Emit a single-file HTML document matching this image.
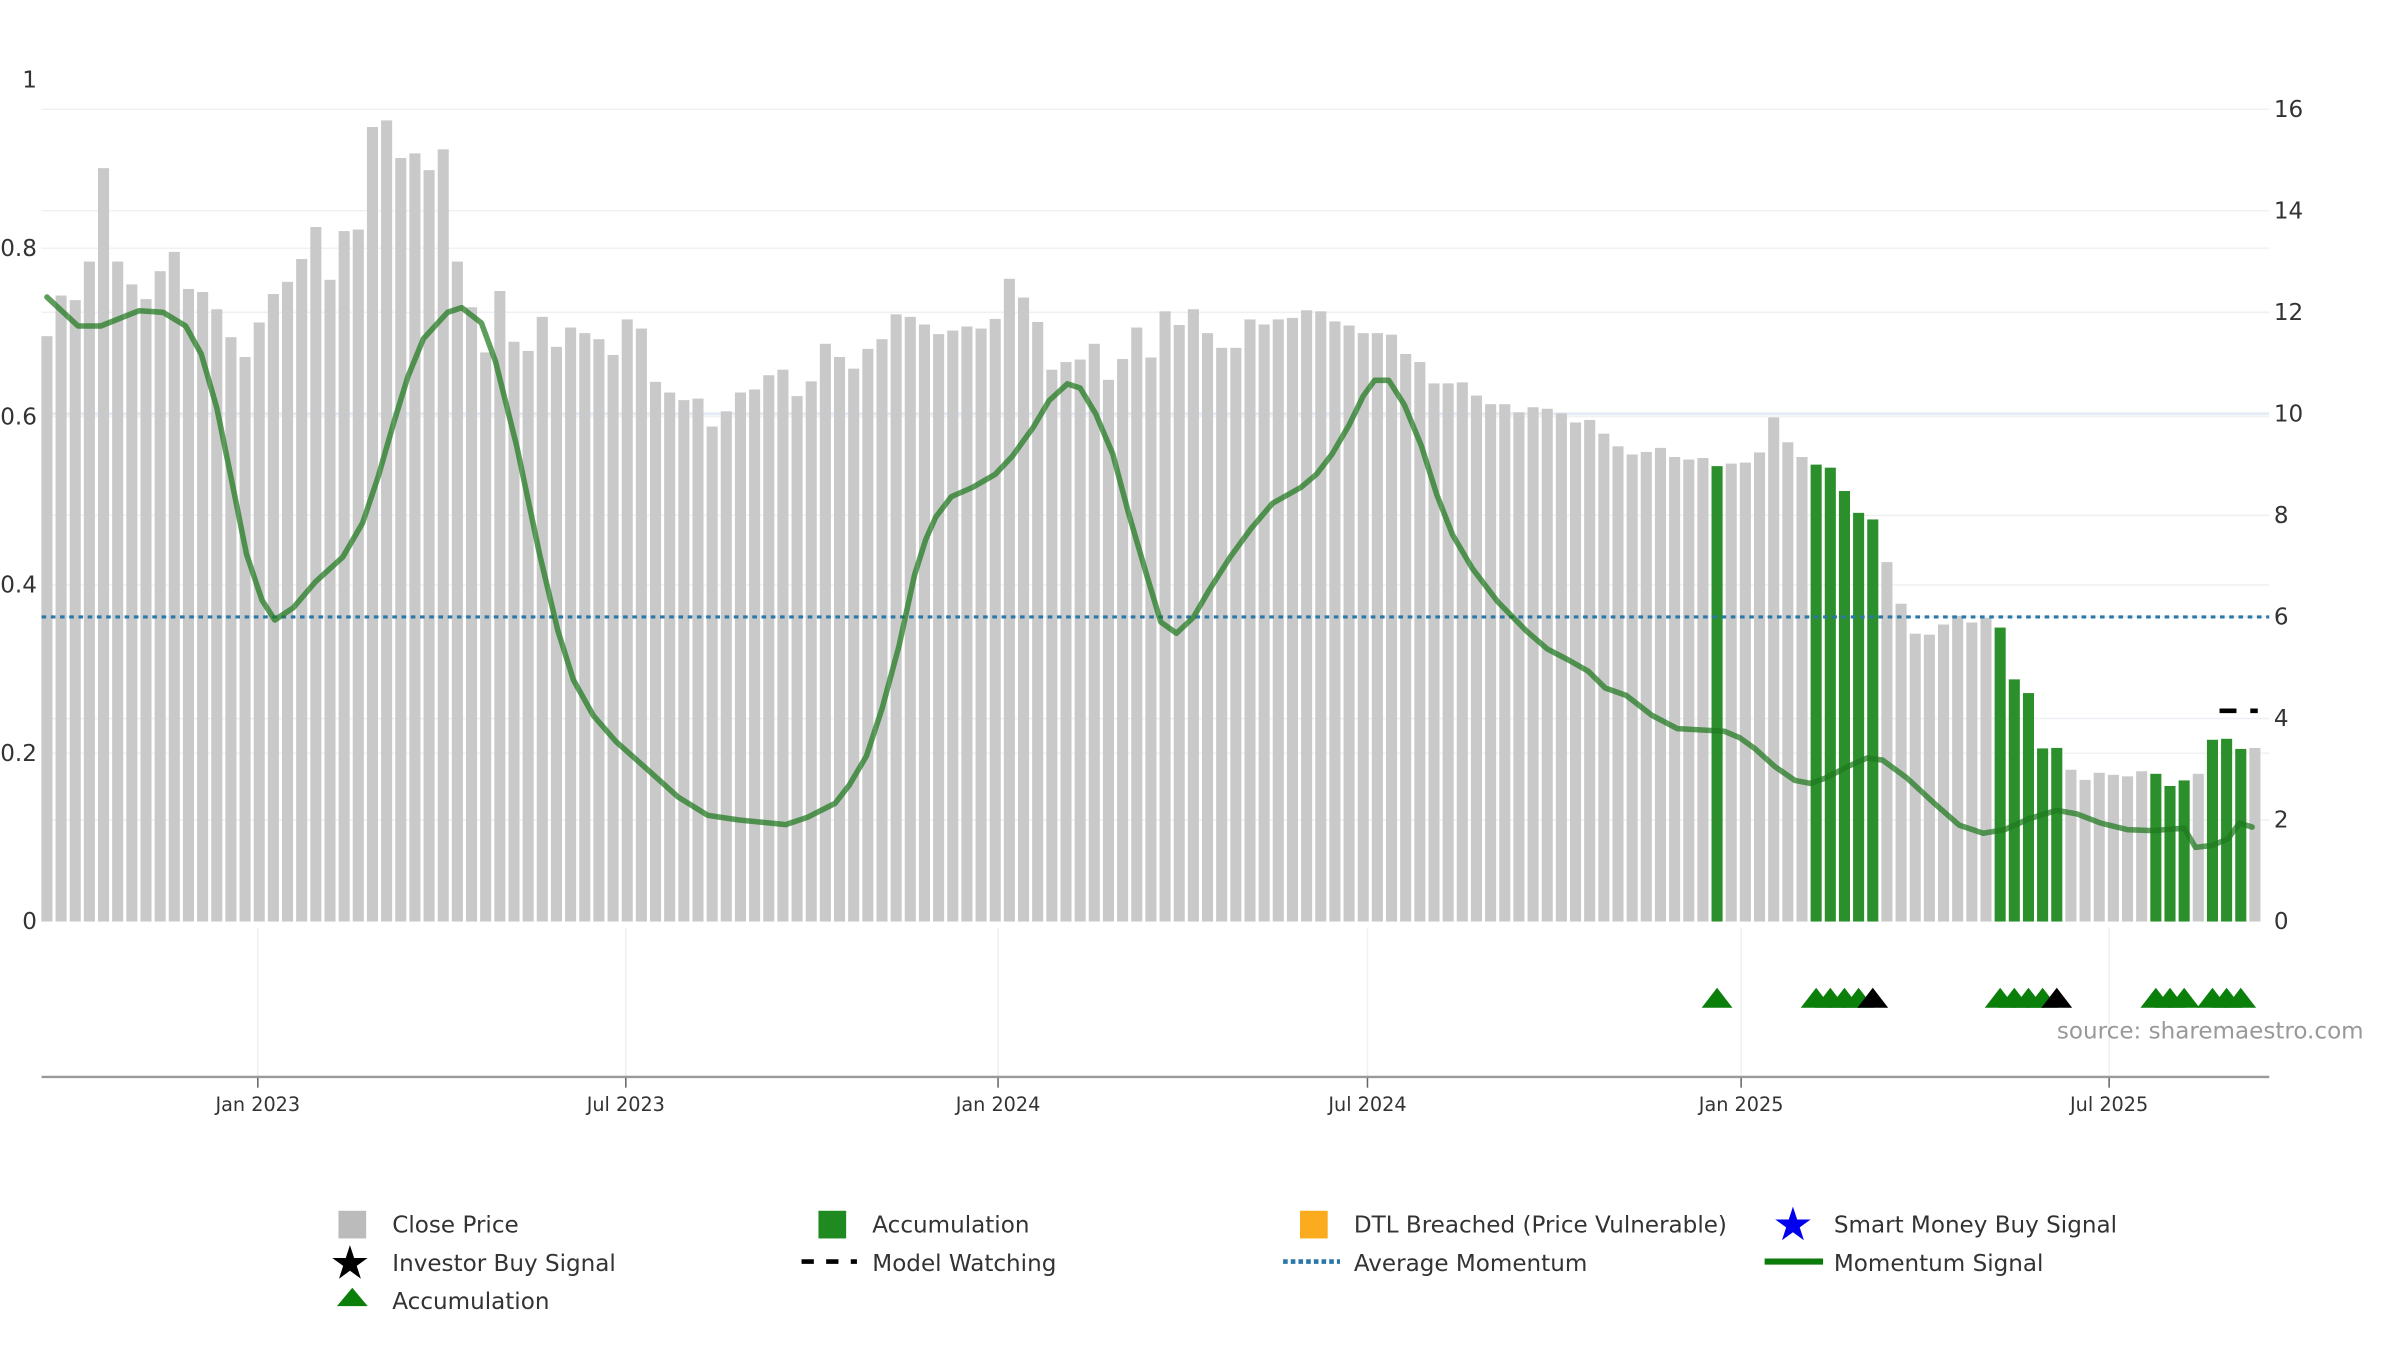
<!DOCTYPE html>
<html><head><meta charset="utf-8"><style>
html,body{margin:0;padding:0;background:#fff;}
svg{display:block;font-family:"DejaVu Sans","Liberation Sans",sans-serif;}
</style></head><body>
<svg id="chart" width="2400" height="1350" viewBox="0 0 1560 877.5" xmlns="http://www.w3.org/2000/svg">
<g id="grid"></g>
<g id="bars"></g>
<g id="lines"></g>
<g id="axes"></g>
<g id="markers"></g>
<text x="1337" y="675" font-size="15" fill="#999">source: sharemaestro.com</text>
<g font-size="15" fill="#333">
  <g><rect x="220" y="787" width="18" height="18" fill="#bbb"/><text x="255" y="801">Close Price</text></g>
  <g><rect x="532" y="787" width="18" height="18" fill="#1f8a1f"/><text x="567" y="801">Accumulation</text></g>
  <g><rect x="845" y="787" width="18" height="18" fill="#fbab1e"/><text x="880" y="801">DTL Breached (Price Vulnerable)</text></g>
  <g><text x="1152" y="806" font-size="30" fill="#0000ee">★</text><text x="1192" y="801">Smart Money Buy Signal</text></g>
  <g><text x="214" y="831" font-size="30" fill="#000">★</text><text x="255" y="826">Investor Buy Signal</text></g>
  <g><line x1="521" y1="820" x2="557" y2="820" stroke="#000" stroke-width="3" stroke-dasharray="8,8"/><text x="567" y="826">Model Watching</text></g>
  <g><line x1="834" y1="820" x2="871" y2="820" stroke="#2a77a8" stroke-width="3" stroke-dasharray="3,2"/><text x="880" y="826">Average Momentum</text></g>
  <g><line x1="1147" y1="820" x2="1185" y2="820" stroke="#0a7a0a" stroke-width="4"/><text x="1192" y="826">Momentum Signal</text></g>
  <g><polygon points="229,837 239,849 219,849" fill="#0a7f0a"/><text x="255" y="851">Accumulation</text></g>
</g>
</svg>
<script>
const closePrice = [11.53,12.33,12.24,13.0,14.84,13.0,12.55,12.26,12.81,13.19,12.46,12.40,12.06,11.51,11.12,11.80,12.36,12.60,13.05,13.68,12.64,13.60,13.63,15.65,15.78,15.04,15.13,14.80,15.21,13.0,12.10,11.21,12.42,11.42,11.24,11.91,11.32,11.70,11.59,11.47,11.16,11.86,11.68,10.63,10.42,10.27,10.30,9.75,10.05,10.42,10.48,10.76,10.87,10.35,
10.64,11.38,11.12,10.89,11.28,11.47,11.96,11.91,11.76,11.57,11.64,11.72,11.68,11.87,12.66,12.29,11.81,10.87,11.02,11.07,11.38,10.67,11.08,11.70,11.11,12.02,11.75,12.06,11.59,11.30,11.30,11.86,11.76,11.86,11.89,12.04,12.02,11.82,11.74,11.59,11.59,11.56,11.18,11.02,10.60,10.60,10.62,10.36,10.19,10.19,10.03,10.13,10.10,10.01,9.83,9.88,
9.61,9.36,9.20,9.25,9.33,9.15,9.10,9.13,8.97,9.02,9.04,9.24,9.93,9.44,9.15,9.00,8.94,8.48,8.05,7.92,7.08,6.26,5.67,5.65,5.85,6.02,5.89,5.98,5.79,4.77,4.50,3.41,3.42,2.99,2.79,2.93,2.89,2.86,2.96,2.91,2.67,2.78,2.91,3.58,3.60,3.40,3.42];
const accumulationIdx = [118,125,126,127,128,129,138,139,140,141,142,149,150,151,153,154,155];
const triangleIdx = [118,125,126,127,128,129,138,139,140,141,142,149,150,151,153,154,155];
const triangleType = ['acc','acc','acc','acc','acc','investor','acc','acc','acc','acc','investor','acc','acc','acc','acc','acc','acc'];
const momIdx = [0,2.2,3.8,6.5,8.2,9.8,10.9,12.0,13.0,14.1,15.2,16.1,17.4,19.0,20.9,22.3,23.4,24.5,25.5,26.6,28.3,29.3,30.7,31.7,33.2,34.8,36.1,37.2,38.6,40.2,42.4,44.6,46.7,48.9,52.2,53.7,55.7,56.7,57.9,59.0,60.2,61.3,62.1,62.8,63.9,65.4,67.0,68.2,69.7,70.8,72.1,73.0,74.1,75.3,76.4,77.6,78.7,79.8,81.0,82.1,83.6,85.1,86.6,88.6,89.7,90.8,92.0,93.0,93.8,94.8,95.9,97.1,98.2,99.3,100.7,102.5,104.5,106.0,107.5,108.9,110.1,111.6,113.4,115.2,117.1,118.5,119.6,120.7,122.1,123.5,124.6,125.7,127.2,128.6,129.7,131.4,133.3,135.1,136.8,138.3,140.1,142.0,143.4,145.1,147.0,148.8,151.0,151.8,153.0,154.1,154.9,155.8];
const momVal = [12.3,11.73,11.73,12.03,12.0,11.73,11.18,10.12,8.76,7.24,6.33,5.94,6.18,6.70,7.18,7.85,8.76,9.82,10.73,11.48,12.0,12.09,11.79,11.03,9.36,7.24,5.73,4.76,4.06,3.55,3.0,2.45,2.09,2.0,1.91,2.05,2.33,2.69,3.26,4.19,5.42,6.83,7.53,7.97,8.37,8.55,8.81,9.16,9.74,10.26,10.59,10.51,10.0,9.21,8.06,6.92,5.90,5.68,5.99,6.52,7.18,7.75,8.24,8.55,8.81,9.21,9.78,10.35,10.66,10.66,10.18,9.38,8.41,7.62,6.96,6.30,5.73,5.37,5.15,4.93,4.6,4.45,4.06,3.80,3.77,3.75,3.62,3.40,3.05,2.78,2.72,2.83,3.05,3.22,3.18,2.83,2.34,1.90,1.74,1.81,2.03,2.19,2.12,1.94,1.81,1.79,1.84,1.46,1.50,1.63,1.94,1.86];
const avgMomentum = [6.0];
const modelWatchingIdx = [153.5,156.2];
const modelWatchingVal = [4.15];
const rightTicks = [0,2,4,6,8,10,12,14,16];
const leftTicks = [0,0.2,0.4,0.6,0.8,1];
const leftTickLabels = ['0','0.2','0.4','0.6','0.8','1'];
const dateTickIdx = [14.9,40.9,67.2,93.3,119.7,145.7];
const dateTickLabels = ['Jan 2023','Jul 2023','Jan 2024','Jul 2024','Jan 2025','Jul 2025'];

const NS='http://www.w3.org/2000/svg';
const X0=30.5, DX=9.2, BASE=599, PLOT_L=27, PLOT_R=1475;
const xS=i=>X0+i*DX;
const yR=v=>BASE-v*33;
const yL=v=>BASE-v*547;
function mk(tag,attrs,parent){const e=document.createElementNS(NS,tag);for(const k in attrs)e.setAttribute(k,attrs[k]);parent.appendChild(e);return e;}
const grid=document.getElementById('grid'),bars=document.getElementById('bars'),lines=document.getElementById('lines'),axes=document.getElementById('axes'),markers=document.getElementById('markers');

rightTicks.forEach(t=>{
  if(t===0)return;
  const g=mk('line',{x1:PLOT_L,x2:PLOT_R,y1:yR(t),y2:yR(t),stroke:t===10?'#e4ecf5':'#eef0f3','stroke-width':t===10?2:1},grid);
  
  
});
rightTicks.forEach(t=>{
  const l=mk('text',{x:1478,y:yR(t)+5,'font-size':15,fill:'#333'},axes);
  l.textContent=t;
  
  
});
leftTicks.forEach((t,k)=>{
  if(t!==0&&t!==1){const g=mk('line',{x1:PLOT_L,x2:PLOT_R,y1:yL(t),y2:yL(t),stroke:'#f1f2f4','stroke-width':1},grid);
  
  }
  const l=mk('text',{x:24,y:yL(t)+5,'font-size':15,fill:'#333','text-anchor':'end'},axes);
  l.textContent=leftTickLabels[k];
  
  
});
dateTickIdx.forEach((d,k)=>{
  const x=xS(d);
  const g=mk('line',{x1:x,x2:x,y1:603,y2:700,stroke:'#eef0f3','stroke-width':1},grid);
  
  
  const t=mk('line',{x1:x,x2:x,y1:700,y2:707,stroke:'#666','stroke-width':1},axes);
  
  
  const l=mk('text',{x:x,y:722,'font-size':12.5,fill:'#333','text-anchor':'middle'},axes);
  l.textContent=dateTickLabels[k];
  
  
});
const ax=mk('line',{x1:PLOT_L,x2:PLOT_R,y1:700,y2:700,stroke:'#999','stroke-width':1.5},axes);



closePrice.forEach((v,i)=>{
  const acc=accumulationIdx.includes(i);
  const r=mk('rect',{x:xS(i)-3.6,y:yR(v),width:7.2,height:BASE-yR(v),fill:acc?'#2b8f2b':'#c9c9c9'},bars);
  
  
});

const avg=mk('line',{x1:PLOT_L,x2:PLOT_R,y1:yR(avgMomentum[0]),y2:yR(avgMomentum[0]),stroke:'#2a77a8','stroke-width':2,'stroke-dasharray':'3,3'},lines);



let d='';
momIdx.forEach((m,k)=>{d+=(k?'L':'M')+xS(m).toFixed(1)+','+yR(momVal[k]).toFixed(1);});
const ml=mk('path',{d:d,fill:'none',stroke:'rgba(30,120,30,0.72)','stroke-width':3.6,'stroke-linejoin':'round','stroke-linecap':'round'},lines);



const mw=mk('line',{x1:xS(modelWatchingIdx[0]),x2:xS(modelWatchingIdx[1]),y1:yR(modelWatchingVal[0]),y2:yR(modelWatchingVal[0]),stroke:'#000','stroke-width':3,'stroke-dasharray':'11,9'},lines);



triangleIdx.forEach((i,k)=>{
  const x=xS(i),y=649;
  const p=mk('polygon',{points:`${x},${y-7} ${x+10},${y+6} ${x-10},${y+6}`,fill:triangleType[k]==='investor'?'#000':'#0a7f0a'},markers);
  
  
});
</script>
</body></html>
